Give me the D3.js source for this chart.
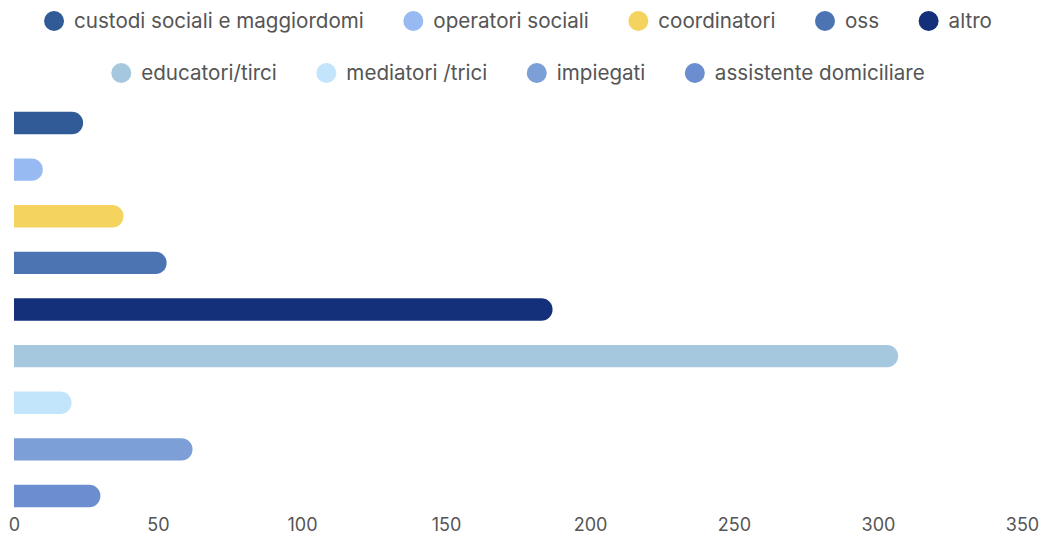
<!DOCTYPE html>
<html>
<head>
<meta charset="utf-8">
<script src="https://cdn.jsdelivr.net/npm/d3@7"></script>
<style>
  html, body { margin: 0; padding: 0; background: #ffffff; }
  svg { display: block; font-family: Inter, "Noto Sans", sans-serif; }
</style>
</head>
<body>
<svg id="chart" width="1042" height="539"></svg>
<script>
// Staff roles and headcounts
const categories = [
  "custodi sociali e maggiordomi",
  "operatori sociali",
  "coordinatori",
  "oss",
  "altro",
  "educatori/tirci",
  "mediatori /trici",
  "impiegati",
  "assistente domiciliare"
];
const values = [24, 10, 38, 53, 187, 307, 20, 62, 30];
const colors = [
  "#305b97", "#98baf2", "#f4d35f", "#4c74b2", "#15307b",
  "#a5c8df", "#c3e5fc", "#7b9fd6", "#6a8ecf"
];
const xTicks = [0, 50, 100, 150, 200, 250, 300, 350];

const W = 1042, H = 539;
const svg = d3.select("#chart");

const x = d3.scaleLinear().domain([0, 350]).range([14, 1022]);
const y = d3.scaleBand().domain(categories).range([99.7, 519.3]).paddingInner(0.52).paddingOuter(0.26);

// Bars: square at the baseline, fully rounded at the value end
const bh = y.bandwidth();
function barPath(v, cat) {
  const x0 = x(0), x1 = x(v), y0 = y(cat), r = bh / 2;
  const xe = Math.max(x0, x1 - r);
  return `M${x0},${y0}H${xe}A${r},${r} 0 0 1 ${xe},${y0 + bh}H${x0}Z`;
}
svg.append("g").selectAll("path")
  .data(categories)
  .join("path")
  .attr("d", (c, i) => barPath(values[i], c))
  .attr("fill", (c, i) => colors[i]);

// Value axis labels
const axis = d3.axisBottom(x).tickValues(xTicks).tickSize(0).tickPadding(0);
const ag = svg.append("g").attr("transform", "translate(0,515)").call(axis);
ag.select(".domain").remove();
ag.selectAll("text")
  .attr("font-family", "Inter, sans-serif")
  .attr("font-size", 18)
  .attr("fill", "#555555")
  .attr("dy", "0.9em");

// Legend, wrapped into centred rows
const legend = svg.append("g");
const items = categories.map((c, i) => {
  const g = legend.append("g");
  g.append("circle").attr("r", 10).attr("cx", 10).attr("cy", 0).attr("fill", colors[i]);
  const t = g.append("text").attr("x", 30).attr("y", 0).attr("dy", "0.35em")
    .attr("font-size", 20.6).attr("fill", "#555555").text(c);
  return { g, w: 30 + t.node().getComputedTextLength() };
});
const gap = 39.5, maxW = 1000, rowY = [21, 73];
let rows = [[]], rw = 0;
items.forEach(it => {
  const add = (rows[rows.length - 1].length ? gap : 0) + it.w;
  if (rw + add > maxW) { rows.push([it]); rw = it.w; }
  else { rows[rows.length - 1].push(it); rw += add; }
});
rows.forEach((row, ri) => {
  const total = d3.sum(row, d => d.w) + gap * (row.length - 1);
  let cx = 518 - total / 2;
  row.forEach(it => {
    it.g.attr("transform", `translate(${cx},${rowY[ri]})`);
    cx += it.w + gap;
  });
});
</script>
</body>
</html>
